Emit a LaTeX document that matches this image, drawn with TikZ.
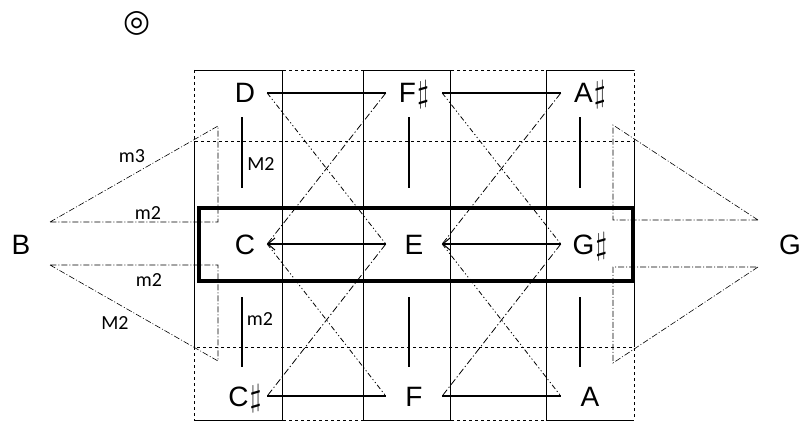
\documentclass[tikz,border=0pt]{standalone}
\usepackage{fontspec}
\setmainfont{Liberation Sans}
\newfontfamily\symb{DejaVu Sans}
\newfontfamily\calib{Carlito}
\usetikzlibrary{arrows.meta}
\newcommand{\diese}{\kern1pt\resizebox*{!}{28pt}{$\sharp$}}

\tikzset{
  note/.style={font=\fontsize{28}{30}\selectfont, inner sep=0pt,
    text height=20pt, text depth=0pt, minimum width=#1},
  intervalle/.style={font=\calib\fontsize{20}{22}\selectfont, inner sep=0pt},
  lien/.style={line width=2.4pt},
  fleche/.style={lien, <-, >={Straight Barb[length=7pt,width=12pt,line width=1pt 0]}},
  barre/.style={line width=2.4pt},
  cadre/.style={line width=0.8pt},
  pointille/.style={line width=0.8pt, dashed},
  gras/.style={line width=4.5pt},
  croixA/.style={line width=0.8pt, dash pattern=on 7pt off 2.5pt on 1.2pt off 2.5pt},
  croixB/.style={line width=0.8pt, dash pattern=on 5pt off 2.5pt on 1.2pt off 2.5pt on 1.2pt off 2.5pt},
  trait/.style={line width=0.6pt, dash pattern=on 6pt off 2pt on 1pt off 2pt}
}

\begin{document}
\begin{tikzpicture}[x=1pt, y=-1pt]
    \useasboundingbox (0,0) rectangle (802,422);

    % Cadres
    \draw[pointille] (194,70) rectangle (634,141);
    \draw[pointille] (194,347) rectangle (634,420);
    \draw[cadre] (363,70) rectangle (450,420);
    \draw[cadre] (194,70) -- (282,70) -- (282,420) -- (194,420);
    \draw[cadre] (194,141) -- (194,347);
    \draw[cadre] (634,70) -- (546,70) -- (546,420) -- (634,420);
    \draw[cadre] (634,141) -- (634,347);
    \draw[gras] (199,208) rectangle (633,281);

    % Notes
    \node[font=\symb\fontsize{31}{33}\selectfont, inner sep=0pt] (rond) at (137,23) {◎};
    \node[note=44pt] (D) at (245,93) {D};
    \node[note=56pt] (Fs) at (414,93) {F\diese};
    \node[note=58pt] (As) at (590,93) {A\diese};
    \node[note=44pt] (C) at (245,244) {C};
    \node[note=56pt] (E) at (414,244) {E};
    \node[note=58pt] (Gs) at (590,244) {G\diese};
    \node[note=44pt] (Cs) at (245,396) {C\diese};
    \node[note=56pt] (F) at (414,396) {F};
    \node[note=58pt] (A) at (590,396) {A};
    \node[note=20pt] (B) at (21,244) {B};
    \node[note=20pt] (G) at (790,244) {G};

    % Liaisons horizontales
    \draw[lien] (D) -- (Fs);
    \draw[lien] (Fs) -- (As);
    \draw[fleche] (C) -- (E);
    \draw[fleche] (E) -- (Gs);
    \draw[lien] (Cs) -- (F);
    \draw[lien] (F) -- (A);

    % Croisements
    \draw[croixB] (D.east) -- (E.west);
    \draw[croixA] (Fs.west) -- (C.east);
    \draw[croixB] (C.east) -- (F.west);
    \draw[croixA] (E.west) -- (Cs.east);
    \draw[croixB] (Fs.east) -- (Gs.west);
    \draw[croixA] (As.west) -- (E.east);
    \draw[croixB] (E.east) -- (A.west);
    \draw[croixA] (Gs.west) -- (F.east);

    % Barres verticales
    \draw[barre] (D.south) ++(-3,14) -- ++(0,71);
    \draw[barre] (Fs.south) ++(-5,14) -- ++(0,71);
    \draw[barre] (As.south) ++(-10,14) -- ++(0,71);
    \draw[barre] (C.south) ++(-3,43) -- ++(0,70);
    \draw[barre] (E.south) ++(-5,43) -- ++(0,70);
    \draw[barre] (Gs.south) ++(-10,43) -- ++(0,70);

    % Triangles de B et de G
    \draw[trait] (50,222) -- (218,126) -- (218,222) -- cycle;
    \draw[trait] (50,265) -- (218,361) -- (218,265) -- cycle;
    \draw[trait] (758,220) -- (613,125) -- (613,220) -- cycle;
    \draw[trait] (758,267) -- (613,363) -- (613,267) -- cycle;

    % Intervalles
    \node[intervalle] (m3) at (132,156) {m3};
    \node[intervalle] (m2a) at (148,213) {m2};
    \node[intervalle] (m2b) at (149,280) {m2};
    \node[intervalle] (M2a) at (115,323) {M2};
    \node[intervalle] (M2b) at (261,164) {M2};
    \node[intervalle] (m2c) at (260,319) {m2};
\end{tikzpicture}
\end{document}
